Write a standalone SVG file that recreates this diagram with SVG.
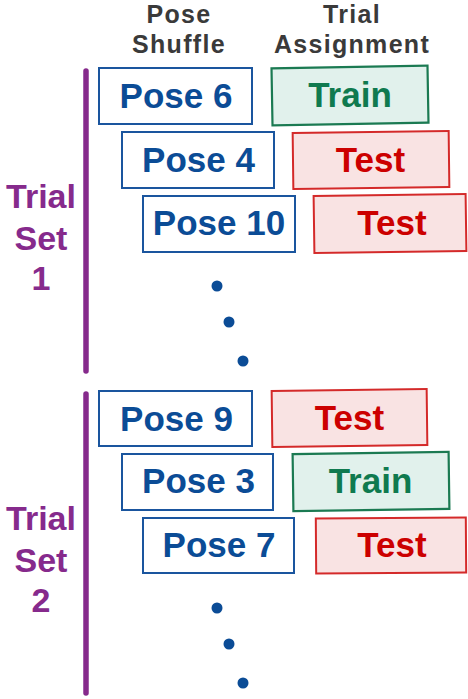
<svg xmlns="http://www.w3.org/2000/svg" width="468" height="699" viewBox="0 0 468 699">
  <style>
    text { font-family: "Liberation Sans", Arial, Helvetica, sans-serif; font-weight: bold; text-anchor: middle; }
    .hdr { font-size: 25px; fill: #3a3a3a; letter-spacing: 1.3px; }
    .set { font-size: 34px; fill: #862a8c; }
    .bar { stroke: #862a8c; stroke-width: 5.5; stroke-linecap: round; fill: none; }
    .pose rect { fill: #ffffff; stroke: #1a559e; stroke-width: 2; }
    .pose text { font-size: 35px; fill: #0b4c96; }
    .train rect { fill: #e1f1ec; stroke: #1b7a52; stroke-width: 2.2; }
    .train text { font-size: 35px; fill: #0f7a4f; }
    .test rect { fill: #f9e3e3; stroke: #d42a2a; stroke-width: 2; }
    .test text { font-size: 35px; fill: #cc0000; }
    .dot { fill: #0b4c96; }
  </style>

  <!-- column headers -->
  <g id="header-pose">
    <text class="hdr" x="179" y="23">Pose</text>
    <text class="hdr" x="179" y="53">Shuffle</text>
  </g>
  <g id="header-assign">
    <text class="hdr" x="352" y="23">Trial</text>
    <text class="hdr" x="352" y="53">Assignment</text>
  </g>

  <!-- trial set brackets -->
  <g id="set1-label">
    <line class="bar" x1="86" y1="71" x2="86" y2="371"/>
    <text class="set" x="41" y="208">Trial</text>
    <text class="set" x="41" y="250">Set</text>
    <text class="set" x="41" y="290">1</text>
  </g>
  <g id="set2-label">
    <line class="bar" x1="86" y1="394" x2="86" y2="693"/>
    <text class="set" x="41" y="530">Trial</text>
    <text class="set" x="41" y="572">Set</text>
    <text class="set" x="41" y="612">2</text>
  </g>

  <!-- trial set 1 -->
  <g id="pose6" class="pose">
    <rect x="99" y="68" width="153" height="56"/>
    <text x="176" y="108">Pose 6</text>
  </g>
  <g id="assign1" class="train">
    <rect x="272" y="67" width="156" height="57" transform="rotate(-1 350 95.5)"/>
    <text x="350" y="107">Train</text>
  </g>
  <g id="pose4" class="pose">
    <rect x="122" y="132" width="152" height="56"/>
    <text x="198.5" y="172">Pose 4</text>
  </g>
  <g id="assign2" class="test">
    <rect x="293" y="132" width="156" height="56" transform="rotate(-0.7 371 160)"/>
    <text x="370.5" y="172">Test</text>
  </g>
  <g id="pose10" class="pose">
    <rect x="143" y="196" width="152" height="56"/>
    <text x="219" y="235">Pose 10</text>
  </g>
  <g id="assign3" class="test">
    <rect x="314" y="195" width="152" height="57" transform="rotate(-0.8 390 223.5)"/>
    <text x="392" y="235">Test</text>
  </g>
  <g id="more1">
    <circle class="dot" cx="217" cy="286" r="5.5"/>
    <circle class="dot" cx="229" cy="322" r="5.5"/>
    <circle class="dot" cx="243" cy="361" r="5.5"/>
  </g>

  <!-- trial set 2 -->
  <g id="pose9" class="pose">
    <rect x="99" y="391" width="153" height="55"/>
    <text x="176.5" y="431">Pose 9</text>
  </g>
  <g id="assign4" class="test">
    <rect x="272" y="390" width="155" height="56" transform="rotate(-0.7 349.5 418)"/>
    <text x="349.5" y="430">Test</text>
  </g>
  <g id="pose3" class="pose">
    <rect x="122" y="454" width="151" height="56"/>
    <text x="198.5" y="493">Pose 3</text>
  </g>
  <g id="assign5" class="train">
    <rect x="293" y="453" width="156" height="57" transform="rotate(-0.8 371 481.5)"/>
    <text x="370.5" y="493">Train</text>
  </g>
  <g id="pose7" class="pose">
    <rect x="143" y="518" width="151" height="55"/>
    <text x="219" y="557">Pose 7</text>
  </g>
  <g id="assign6" class="test">
    <rect x="316" y="518" width="150" height="55" transform="rotate(-0.4 391 545.5)"/>
    <text x="392" y="557">Test</text>
  </g>
  <g id="more2">
    <circle class="dot" cx="217" cy="608" r="5.5"/>
    <circle class="dot" cx="229" cy="644" r="5.5"/>
    <circle class="dot" cx="243" cy="683" r="5.5"/>
  </g>
</svg>
